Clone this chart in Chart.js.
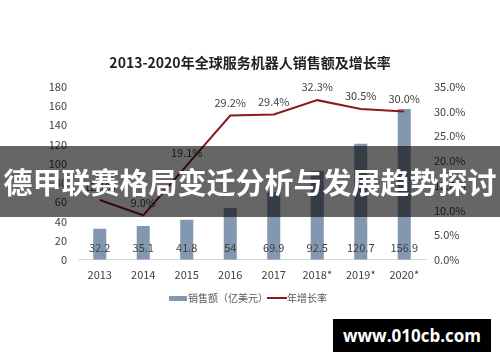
<!DOCTYPE html>
<html>
<head>
<meta charset="utf-8">
<script src="https://cdn.jsdelivr.net/npm/chart.js@4.4.1/dist/chart.umd.min.js"></script>
<style>
html,body{margin:0;padding:0;background:#fff;}
#wrap{position:relative;width:500px;height:362px;overflow:hidden;}
#banner{position:absolute;left:0;top:146px;width:500px;height:71px;background:rgba(0,0,0,0.6);
 color:#fff;font-family:"Noto Sans CJK SC";font-weight:bold;font-size:29px;line-height:71px;
 text-align:center;white-space:nowrap;letter-spacing:0px;}
#wm{position:absolute;left:333px;top:319px;width:158px;height:33px;background:#000;color:#fff;
 font-family:"Open Sans","DejaVu Sans";font-weight:bold;font-size:17px;line-height:33px;text-align:center;}
</style>
</head>
<body>
<div id="wrap">
<canvas id="c" width="500" height="362"></canvas>
<div id="banner">德甲联赛格局变迁分析与发展趋势探讨</div>
<div id="wm">www.010cb.com</div>
</div>
<script>
const categories = ['2013','2014','2015','2016','2017','2018*','2019*','2020*'];
const salesValues = [32.2, 35.1, 41.8, 54, 69.9, 92.5, 120.7, 156.9];
const growthValues = [12.1, 9.0, 19.1, 29.2, 29.4, 32.3, 30.5, 30.0];
const leftTicks = [0,20,40,60,80,100,120,140,160,180];
const rightTicks = [0,5,10,15,20,25,30,35];

const barColor = '#8497b0';
const lineColor = '#8b1a1a';
const font = '"Noto Sans CJK SC", "Open Sans", sans-serif';

function swatch(w,h,color){
  const cv=document.createElement('canvas');cv.width=w;cv.height=h;
  const x=cv.getContext('2d');x.fillStyle=color;x.fillRect(0,0,w,h);return cv;
}

const labelPlugin = {
  id:'valueLabels',
  afterDatasetsDraw(chart){
    const ctx=chart.ctx;
    ctx.save();
    ctx.textAlign='center';ctx.textBaseline='middle';
    ctx.font='11px '+font;ctx.fillStyle='#404040';
    const barMeta=chart.getDatasetMeta(0);
    const yScale=chart.scales.y;
    barMeta.data.forEach((el,i)=>{
      ctx.fillText(String(salesValues[i]), el.x, yScale.getPixelForValue(0)-12);
    });
    const lineMeta=chart.getDatasetMeta(1);
    lineMeta.data.forEach((el,i)=>{
      ctx.fillText(growthValues[i].toFixed(1)+'%', el.x, el.y-13);
    });
    ctx.restore();
  }
};

new Chart(document.getElementById('c'),{
  data:{
    labels:categories,
    datasets:[
      {type:'bar',label:'销售额（亿美元）',data:salesValues,backgroundColor:barColor,
       categoryPercentage:0.6,barPercentage:0.5,yAxisID:'y',order:2,
       pointStyle:swatch(18,5,barColor)},
      {type:'line',label:'年增长率',data:growthValues,borderColor:lineColor,backgroundColor:lineColor,
       borderWidth:2,pointRadius:0,tension:0,yAxisID:'y1',order:1,
       pointStyle:swatch(20,2,lineColor)}
    ]
  },
  plugins:[labelPlugin],
  options:{
    responsive:false,animation:false,
    layout:{padding:{left:0,right:0,top:0,bottom:49}},
    plugins:{
      title:{display:true,text:'2013-2020年全球服务机器人销售额及增长率',color:'#222',
        font:{family:font,size:14,weight:'bold'},padding:{top:54,bottom:16}},
      legend:{position:'bottom',labels:{usePointStyle:true,color:'#595959',
        font:{family:font,size:10},padding:4,boxHeight:6,
        sort:(a,b)=>a.datasetIndex-b.datasetIndex}},
      tooltip:{enabled:false}
    },
    scales:{
      x:{grid:{display:false,drawTicks:false},border:{color:'#d9d9d9'},
        ticks:{color:'#404040',font:{family:font,size:11},padding:8}},
      y:{position:'left',min:0,max:180,grid:{display:false,drawTicks:false},border:{display:false},
        afterBuildTicks(s){s.ticks=leftTicks.map(v=>({value:v}));},
        afterFit(s){s.width=78;},
        ticks:{color:'#404040',font:{family:font,size:11},padding:11}},
      y1:{position:'right',min:0,max:35,grid:{display:false,drawTicks:false},border:{display:false},
        afterBuildTicks(s){s.ticks=rightTicks.map(v=>({value:v}));},
        afterFit(s){s.width=74;},
        ticks:{color:'#404040',font:{family:font,size:11},padding:8,callback:v=>v.toFixed(1)+'%'}}
    }
  }
});
</script>
</body>
</html>
